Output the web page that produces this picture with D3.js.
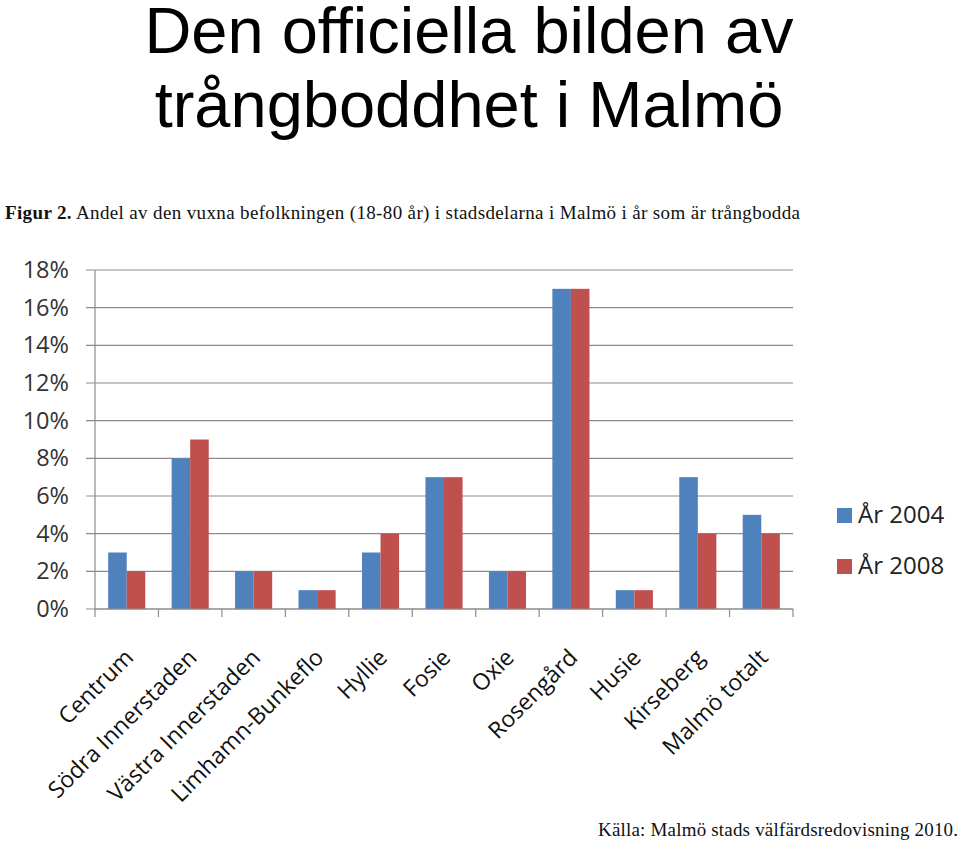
<!DOCTYPE html>
<html><head><meta charset="utf-8">
<script src="https://cdn.jsdelivr.net/npm/d3@7"></script>
<style>body{margin:0;background:#fff}</style>
</head><body>
<svg id="c" width="960" height="844"></svg>
<script>
const categories = ["Centrum","Södra Innerstaden","Västra Innerstaden","Limhamn-Bunkeflo","Hyllie","Fosie","Oxie","Rosengård","Husie","Kirseberg","Malmö totalt"];
const values2004 = [3,8,2,1,3,7,2,17,1,7,5];
const values2008 = [2,9,2,1,4,7,2,17,1,4,4];
const seriesNames = ["År 2004","År 2008"];
const yTicks = [0,2,4,6,8,10,12,14,16,18];

const svg = d3.select("#c");
const colors = ["#4F81BD","#C0504D"];
const L=95, R=793, T=270, B=609;

// Title
const title = svg.append("text").attr("text-anchor","middle")
  .attr("font-family","Liberation Sans, Arial, sans-serif").attr("font-size",65).attr("fill","#000");
title.append("tspan").attr("x",469).attr("y",53).text("Den officiella bilden av");
title.append("tspan").attr("x",469).attr("y",127).text("trångboddhet i Malmö");

// caption
const cap = svg.append("text").attr("x",5).attr("y",219)
  .attr("font-family","Liberation Serif, serif").attr("font-size",19).attr("fill","#111")
  .attr("textLength",795).attr("lengthAdjust","spacing");
cap.append("tspan").attr("font-weight","bold").text("Figur 2.");
cap.append("tspan").text(" Andel av den vuxna befolkningen (18-80 år) i stadsdelarna i Malmö i år som är trångbodda");

svg.append("text").attr("x",598).attr("y",836)
  .attr("font-family","Liberation Serif, serif").attr("font-size",19).attr("fill","#111")
  .attr("textLength",360).attr("lengthAdjust","spacing")
  .text("Källa: Malmö stads välfärdsredovisning 2010.");

const x = d3.scaleBand().domain(categories).range([L,R]).paddingInner(0).paddingOuter(0);
const y = d3.scaleLinear().domain([0,18]).range([B,T]);
const inner = d3.scaleBand().domain([0,1]).range([0,x.bandwidth()]).paddingOuter(0.71).paddingInner(0);

// gridlines
svg.append("g").selectAll("line").data(yTicks).join("line")
  .attr("x1",86).attr("x2",R).attr("y1",d=>y(d)).attr("y2",d=>y(d))
  .attr("stroke","#8c8c8c").attr("stroke-width",1.2);

// y axis labels
svg.append("g").selectAll("text").data(yTicks).join("text")
  .attr("x",69).attr("y",d=>y(d)+8).attr("text-anchor","end")
  .attr("font-family","Open Sans, sans-serif").attr("font-size",23.5).attr("fill","#333")
  .text(d=>d+"%");

// bars
const data = categories.map((c,i)=>({c, v:[values2004[i],values2008[i]]}));
const g = svg.append("g");
data.forEach(d=>{
  d.v.forEach((v,k)=>{
    g.append("rect").attr("x",x(d.c)+inner(k)).attr("width",inner.bandwidth())
      .attr("y",y(v)).attr("height",B-y(v)).attr("fill",colors[k]);
  });
});

// axes lines
svg.append("line").attr("x1",L).attr("x2",L).attr("y1",T).attr("y2",B).attr("stroke","#8c8c8c").attr("stroke-width",1.2);
svg.append("line").attr("x1",L).attr("x2",R).attr("y1",B).attr("y2",B).attr("stroke","#8c8c8c").attr("stroke-width",1.2);
const xt = categories.map(c=>x(c)).concat([R]);
svg.append("g").selectAll("line").data(xt).join("line")
  .attr("x1",d=>d).attr("x2",d=>d).attr("y1",B).attr("y2",B+8).attr("stroke","#8c8c8c").attr("stroke-width",1.2);

// x labels
svg.append("g").selectAll("text").data(categories).join("text")
  .attr("transform",d=>`translate(${x(d)+x.bandwidth()/2+8},${B+50}) rotate(-45)`)
  .attr("text-anchor","end")
  .attr("font-family","Open Sans, sans-serif").attr("font-size",23).attr("fill","#111")
  .text(d=>d);

// legend
seriesNames.forEach((s,k)=>{
  const ly = 508 + k*51;
  svg.append("rect").attr("x",837).attr("y",ly).attr("width",15).attr("height",15).attr("fill",colors[k]);
  svg.append("text").attr("x",858).attr("y",ly+15).attr("font-family","Open Sans, sans-serif")
    .attr("font-size",24).attr("fill","#222").text(s);
});
</script>
</body></html>
